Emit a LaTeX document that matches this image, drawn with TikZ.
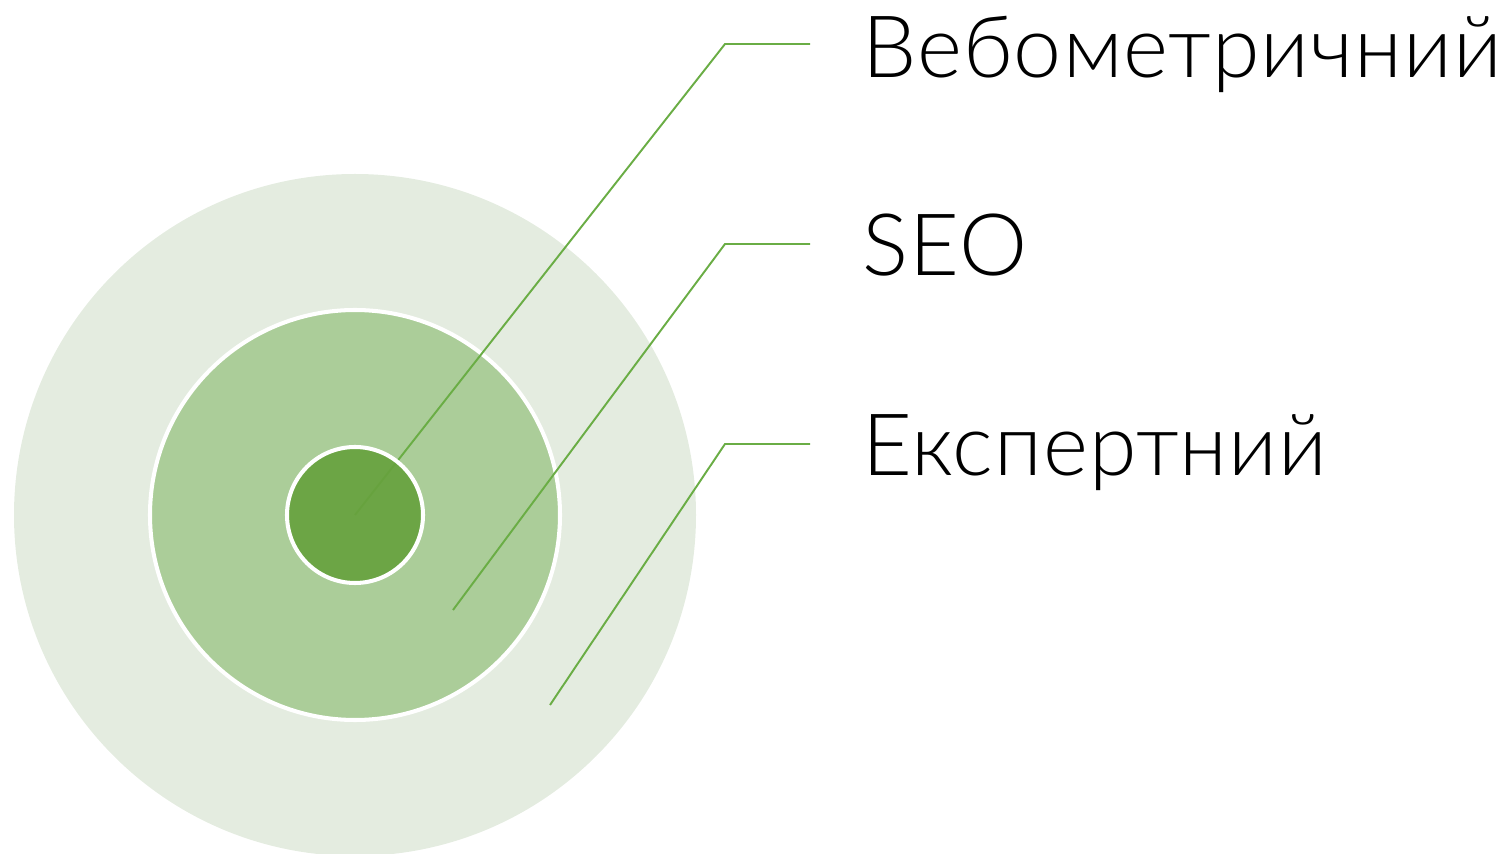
\documentclass[tikz,border=0pt]{standalone}
\usepackage{fontspec}
\setmainfont{Lato}[UprightFont={* Light},LetterSpace=1.2]
\definecolor{ringout}{HTML}{E4ECE0}
\definecolor{ringmid}{HTML}{ABCD99}
\definecolor{ringin}{HTML}{67A23E}
\definecolor{leader}{HTML}{6AAD45}
\tikzset{
  ring/.style={draw=white,line width=2.3pt},
  lead/.style={draw=leader,line width=1.1pt},
  lbl/.style={anchor=base west,inner sep=0pt,font=\fontsize{49}{58}\selectfont}
}
\begin{document}
\begin{tikzpicture}[x=0.02cm,y=-0.02cm]
      \useasboundingbox (0,0) rectangle (1509,854);
      \fill[ringout] (355,515) circle (341);
      \draw[ring,fill=ringmid] (355,515) circle (205);
      \draw
        (355,515) coordinate (c0)
        (453,610) coordinate (c1)
        (550,705) coordinate (c2)
        (725,44) coordinate (k0)
        (725,244) coordinate (k1)
        (725,444) coordinate (k2)
        (810,44) coordinate (e0)
        (810,244) coordinate (e1)
        (810,444) coordinate (e2);
      \begin{scope}[lead]
        \draw (c0) -- (k0) -- (e0);
        \draw (c1) -- (k1) -- (e1);
        \draw (c2) -- (k2) -- (e2);
      \end{scope}
      \draw[ring,fill=ringin,fill opacity=0.92] (355,515) circle (68);
      \draw
        (862,78) node[lbl] (t0){Вебометричний}
        (862,276) node[lbl] (t1){SEO}
        (862,476) node[lbl] (t2){Експертний};
    \end{tikzpicture}
\end{document}
